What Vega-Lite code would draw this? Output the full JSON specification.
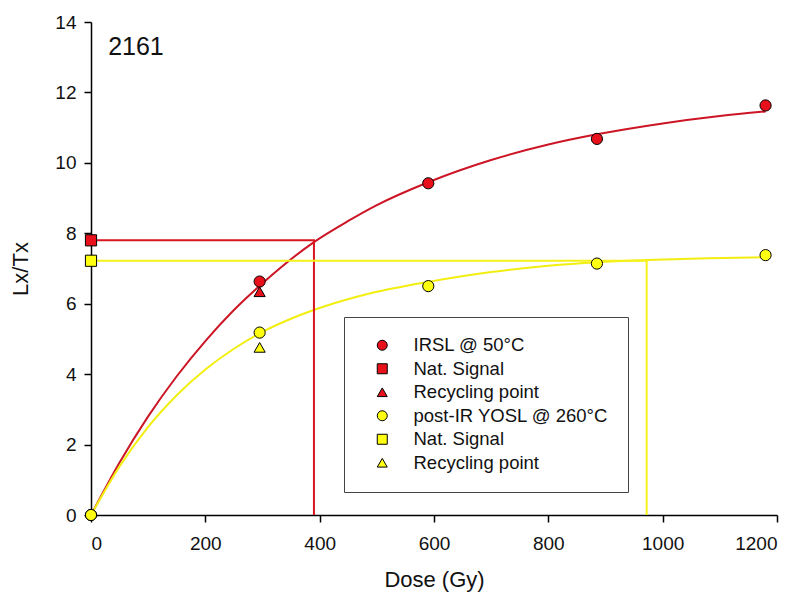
{
  "$schema": "https://vega.github.io/schema/vega-lite/v6.json",
  "width": 686,
  "height": 493,
  "autosize": {"type": "none"},
  "padding": {"left": 91, "top": 22, "right": 20, "bottom": 82},
  "background": "white",
  "config": {
    "view": {"stroke": null},
    "font": "Liberation Sans",
    "axis": {
      "grid": false,
      "domainColor": "black",
      "domainWidth": 1.5,
      "tickColor": "black",
      "tickWidth": 1.5,
      "tickSize": 7,
      "labelFont": "Liberation Sans",
      "labelFontSize": 19,
      "labelColor": "#111",
      "titleFont": "Liberation Sans",
      "titleFontSize": 22,
      "titleFontWeight": "normal",
      "titleColor": "#111"
    }
  },
  "datasets": {
    "curves": [
      {"curve": "IRSL", "dose": 0, "lxtx": 0},
      {"curve": "IRSL", "dose": 50, "lxtx": 1.49},
      {"curve": "IRSL", "dose": 100, "lxtx": 2.8},
      {"curve": "IRSL", "dose": 150, "lxtx": 3.94},
      {"curve": "IRSL", "dose": 200, "lxtx": 4.94},
      {"curve": "IRSL", "dose": 250, "lxtx": 5.82},
      {"curve": "IRSL", "dose": 300, "lxtx": 6.58},
      {"curve": "IRSL", "dose": 390, "lxtx": 7.75},
      {"curve": "IRSL", "dose": 450, "lxtx": 8.35},
      {"curve": "IRSL", "dose": 500, "lxtx": 8.8},
      {"curve": "IRSL", "dose": 590, "lxtx": 9.45},
      {"curve": "IRSL", "dose": 700, "lxtx": 10.08},
      {"curve": "IRSL", "dose": 800, "lxtx": 10.52},
      {"curve": "IRSL", "dose": 885, "lxtx": 10.81},
      {"curve": "IRSL", "dose": 1000, "lxtx": 11.12},
      {"curve": "IRSL", "dose": 1100, "lxtx": 11.33},
      {"curve": "IRSL", "dose": 1180, "lxtx": 11.46},
      {"curve": "YOSL", "dose": 0, "lxtx": 0},
      {"curve": "YOSL", "dose": 50, "lxtx": 1.38},
      {"curve": "YOSL", "dose": 100, "lxtx": 2.5},
      {"curve": "YOSL", "dose": 150, "lxtx": 3.4},
      {"curve": "YOSL", "dose": 200, "lxtx": 4.13},
      {"curve": "YOSL", "dose": 250, "lxtx": 4.72},
      {"curve": "YOSL", "dose": 300, "lxtx": 5.2},
      {"curve": "YOSL", "dose": 366, "lxtx": 5.68},
      {"curve": "YOSL", "dose": 409, "lxtx": 5.93},
      {"curve": "YOSL", "dose": 482, "lxtx": 6.27},
      {"curve": "YOSL", "dose": 590, "lxtx": 6.62},
      {"curve": "YOSL", "dose": 700, "lxtx": 6.9},
      {"curve": "YOSL", "dose": 800, "lxtx": 7.08},
      {"curve": "YOSL", "dose": 885, "lxtx": 7.18},
      {"curve": "YOSL", "dose": 972, "lxtx": 7.24},
      {"curve": "YOSL", "dose": 1080, "lxtx": 7.29},
      {"curve": "YOSL", "dose": 1180, "lxtx": 7.32}
    ],
    "guides": [
      {"guide": "IRSL", "step": 1, "dose": 0, "lxtx": 7.8},
      {"guide": "IRSL", "step": 2, "dose": 390, "lxtx": 7.8},
      {"guide": "IRSL", "step": 3, "dose": 390, "lxtx": 0},
      {"guide": "YOSL", "step": 1, "dose": 0, "lxtx": 7.22},
      {"guide": "YOSL", "step": 2, "dose": 972, "lxtx": 7.22},
      {"guide": "YOSL", "step": 3, "dose": 972, "lxtx": 0}
    ],
    "points": [
      {"series": "IRSL @ 50°C|a", "dose": 0, "lxtx": 0},
      {"series": "IRSL @ 50°C|a", "dose": 295, "lxtx": 6.63},
      {"series": "IRSL @ 50°C|a", "dose": 590, "lxtx": 9.42},
      {"series": "IRSL @ 50°C|a", "dose": 885, "lxtx": 10.68},
      {"series": "IRSL @ 50°C|a", "dose": 1180, "lxtx": 11.63},
      {"series": "Nat. Signal|b", "dose": 0, "lxtx": 7.8},
      {"series": "Recycling point|c", "dose": 295, "lxtx": 6.34},
      {"series": "post-IR YOSL @ 260°C|d", "dose": 0, "lxtx": 0},
      {"series": "post-IR YOSL @ 260°C|d", "dose": 295, "lxtx": 5.18},
      {"series": "post-IR YOSL @ 260°C|d", "dose": 590, "lxtx": 6.5},
      {"series": "post-IR YOSL @ 260°C|d", "dose": 885, "lxtx": 7.14},
      {"series": "post-IR YOSL @ 260°C|d", "dose": 1180, "lxtx": 7.38},
      {"series": "Nat. Signal|e", "dose": 0, "lxtx": 7.22},
      {"series": "Recycling point|f", "dose": 295, "lxtx": 4.76}
    ],
    "labels": [
      {"text": "2161", "dose": 30, "lxtx": 13.3}
    ]
  },
  "layer": [
    {
      "data": {"name": "curves"},
      "transform": [{"filter": "datum.curve === 'IRSL'"}],
      "mark": {"type": "line", "color": "#cc1525", "strokeWidth": 2, "interpolate": "monotone"},
      "encoding": {
        "x": {"field": "dose", "type": "quantitative", "scale": {"domain": [0, 1200]},
              "axis": {"values": [0, 200, 400, 600, 800, 1000, 1200], "format": "d", "title": "Dose (Gy)", "labelPadding": 12, "titlePadding": 16}},
        "y": {"field": "lxtx", "type": "quantitative", "scale": {"domain": [0, 14]},
              "axis": {"values": [0, 2, 4, 6, 8, 10, 12, 14], "format": "d", "title": "Lx/Tx", "labelPadding": 8, "titlePadding": 22}}
      }
    },
    {
      "data": {"name": "curves"},
      "transform": [{"filter": "datum.curve === 'YOSL'"}],
      "mark": {"type": "line", "color": "#f2ee10", "strokeWidth": 2, "interpolate": "monotone"},
      "encoding": {
        "x": {"field": "dose", "type": "quantitative"},
        "y": {"field": "lxtx", "type": "quantitative"}
      }
    },
    {
      "data": {"name": "guides"},
      "transform": [{"filter": "datum.guide === 'IRSL'"}],
      "mark": {"type": "line", "color": "#d8141e", "strokeWidth": 2},
      "encoding": {
        "x": {"field": "dose", "type": "quantitative"},
        "y": {"field": "lxtx", "type": "quantitative"},
        "order": {"field": "step"}
      }
    },
    {
      "data": {"name": "guides"},
      "transform": [{"filter": "datum.guide === 'YOSL'"}],
      "mark": {"type": "line", "color": "#f5f21a", "strokeWidth": 2},
      "encoding": {
        "x": {"field": "dose", "type": "quantitative"},
        "y": {"field": "lxtx", "type": "quantitative"},
        "order": {"field": "step"}
      }
    },
    {
      "data": {"name": "points"},
      "mark": {"type": "point", "filled": true, "opacity": 1, "stroke": "black", "strokeWidth": 1, "size": 125},
      "encoding": {
        "x": {"field": "dose", "type": "quantitative"},
        "y": {"field": "lxtx", "type": "quantitative"},
        "color": {
          "field": "series", "type": "nominal",
          "scale": {
            "domain": ["IRSL @ 50°C|a", "Nat. Signal|b", "Recycling point|c", "post-IR YOSL @ 260°C|d", "Nat. Signal|e", "Recycling point|f"],
            "range": ["#e8101a", "#e8101a", "#e8101a", "#ffff10", "#ffff10", "#ffff10"]
          },
          "legend": {
            "title": null,
            "orient": "none",
            "legendX": 253,
            "legendY": 295,
            "direction": "vertical",
            "padding": 19,
            "strokeColor": "#444",
            "fillColor": "white",
            "labelFont": "Liberation Sans",
            "labelFontSize": 18.5,
            "labelColor": "#111",
            "labelLimit": 0,
            "labelOffset": 22,
            "symbolOffset": 10,
            "symbolSize": 100,
            "symbolStrokeColor": "black",
            "symbolStrokeWidth": 1,
            "rowPadding": 4.5,
            "labelExpr": "split(datum.label, '|')[0]"
          }
        },
        "shape": {
          "field": "series", "type": "nominal",
          "scale": {
            "domain": ["IRSL @ 50°C|a", "Nat. Signal|b", "Recycling point|c", "post-IR YOSL @ 260°C|d", "Nat. Signal|e", "Recycling point|f"],
            "range": ["circle", "square", "triangle-up", "circle", "square", "triangle-up"]
          }
        }
      }
    },
    {
      "data": {"name": "labels"},
      "mark": {"type": "text", "align": "left", "baseline": "middle", "fontSize": 25, "font": "Liberation Sans", "color": "#111"},
      "encoding": {
        "x": {"field": "dose", "type": "quantitative"},
        "y": {"field": "lxtx", "type": "quantitative"},
        "text": {"field": "text"}
      }
    }
  ]
}
